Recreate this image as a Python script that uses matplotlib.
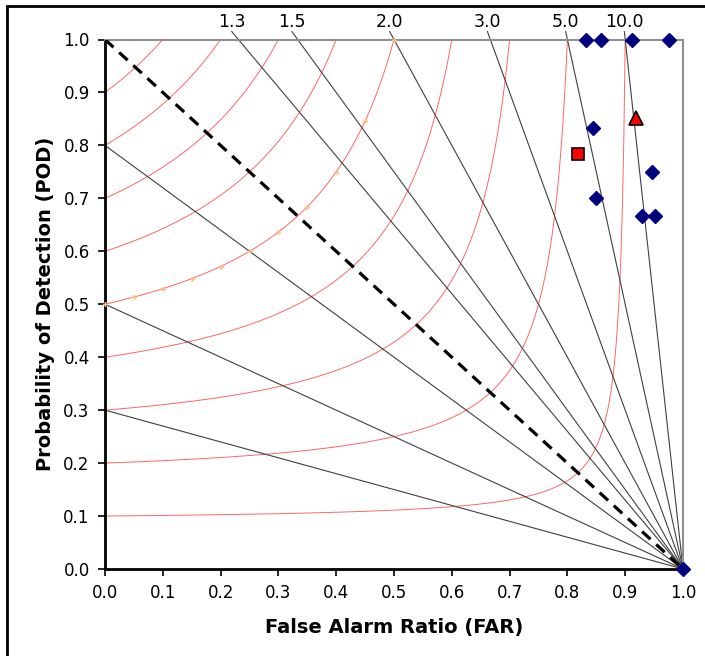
import numpy as np
import matplotlib
matplotlib.use("Agg")
import matplotlib.pyplot as plt
from matplotlib.patches import Rectangle

# 描画する値
csi_levels = [0.1, 0.2, 0.3, 0.4, 0.5, 0.6, 0.7, 0.8, 0.9]
bias_low = [0.3, 0.5, 0.8]
bias_high = [1.3, 1.5, 2.0, 3.0, 5.0, 10.0]
bias_labels = ["1.3", "1.5", "2.0", "3.0", "5.0", "10.0"]

# CSI=0.5 の曲線上の補助点
ref_far = [0.0, 0.05, 0.10, 0.15, 0.20, 0.25, 0.30, 0.35, 0.40, 0.45, 0.50]
ref_pod = [0.500, 0.513, 0.528, 0.547, 0.571, 0.600, 0.636, 0.683, 0.750, 0.846, 1.000]

# 観測点
obs_far = [0.833, 0.858, 0.911, 0.976, 0.844, 0.946, 0.850, 0.929, 0.952, 1.0]
obs_pod = [1.0, 1.0, 1.0, 1.0, 0.833, 0.750, 0.700, 0.667, 0.667, 0.0]
square_far = [0.818]
square_pod = [0.783]
triangle_far = [0.919]
triangle_pod = [0.852]

ticks = [round(0.1 * i, 1) for i in range(11)]

fig = plt.figure(figsize=(7.05, 6.56), dpi=100)
ax = fig.add_axes([105 / 705, 1 - 569 / 656, 578 / 705, 529.5 / 656])

# 図の枠 (左と上だけ見える)
fig.patches.append(Rectangle((7 / 705, -0.2), 1.2, 1.2 - 6 / 656,
                             transform=fig.transFigure, fill=False,
                             edgecolor="black", linewidth=2))

# CSI曲線
for c in csi_levels:
    far = np.linspace(0, 1 - c, 400)
    sr = 1 - far
    pod = 1 / (1 / c - 1 / sr + 1)
    ax.plot(far, np.minimum(pod, 1.0), color="#ff4040", lw=0.7, alpha=0.8, zorder=2)

# バイアス線
for b in bias_low:
    ax.plot([0, 1], [b, 0], color="#404040", lw=0.8, zorder=2)
top = 1.015
for b, lab in zip(bias_high, bias_labels):
    x0 = 1 - top / b
    ax.plot([x0, 1], [top, 0], color="#404040", lw=0.8, zorder=2, clip_on=False)
    ax.text(x0, top + 0.001, lab, ha="center", va="bottom", fontsize=12.5)

# バイアス = 1
ax.plot([0, 1], [1, 0], color="black", lw=2.3, ls=(0, (3.6, 2.4)), zorder=3)

ax.plot(ref_far, ref_pod, ls="none", marker="P", ms=3.5, color="#ffc080",
        mew=0, zorder=3, clip_on=False)

ax.plot(obs_far, obs_pod, ls="none", marker="D", ms=7.5, color="#000080",
        zorder=5, clip_on=False)
ax.plot(square_far, square_pod, ls="none", marker="s", ms=9, color="red",
        mec="black", mew=1.2, zorder=5)
ax.plot(triangle_far, triangle_pod, ls="none", marker="^", ms=10.5, color="red",
        mec="black", mew=1.2, zorder=5)

ax.set_xlim(0, 1)
ax.set_ylim(0, 1)
ax.set_xticks(ticks)
ax.set_yticks(ticks)
ax.set_xticklabels([f"{t:.1f}" for t in ticks], fontsize=12)
ax.set_yticklabels([f"{t:.1f}" for t in ticks], fontsize=12)
ax.tick_params(direction="out", length=5, width=1.2, pad=6)

for side in ["left", "bottom"]:
    ax.spines[side].set_linewidth(2)
    ax.spines[side].set_color("black")
for side in ["top", "right"]:
    ax.spines[side].set_linewidth(1.5)
    ax.spines[side].set_color("#909090")

ax.set_xlabel("False Alarm Ratio (FAR)", fontsize=14, fontweight="bold", labelpad=11)
ax.set_ylabel("Probability of Detection (POD)", fontsize=14, fontweight="bold", labelpad=6)

fig.savefig("out.png", dpi=100)
